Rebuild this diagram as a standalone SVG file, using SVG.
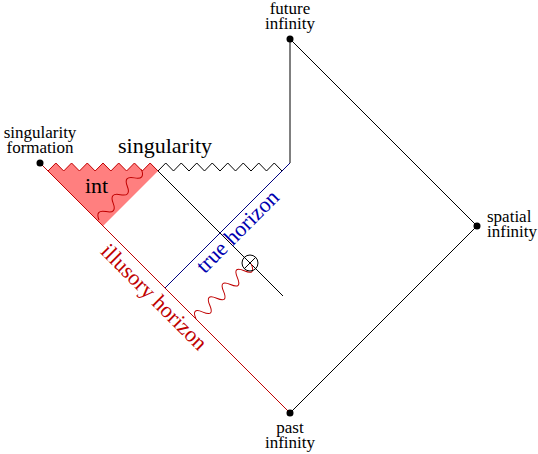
<svg xmlns="http://www.w3.org/2000/svg" width="538" height="454" viewBox="0 0 538 454">
<style>
text{font-family:"Liberation Serif","Times New Roman",serif;fill:#000}
.sm{font-size:17px}
.lg{font-size:22px}
.ln{fill:none;stroke:#000;stroke-width:1}
.red{fill:none;stroke:#c00000;stroke-width:1}
.blue{fill:none;stroke:#000080;stroke-width:1}
.dot{fill:#000}
</style>
<rect width="538" height="454" fill="#fff"/>
<g id="interior">
<polygon points="48,171 55.86,163 63.71,171 71.57,163 79.43,171 87.29,163 95.14,171 103,163 110.86,171 118.71,163 126.57,171 134.43,163 142.29,171 150.14,163 158,171 103,226" fill="#ff7f7f" stroke="none"/>
<polyline class="red" points="48,171 55.86,163 63.71,171 71.57,163 79.43,171 87.29,163 95.14,171 103,163 110.86,171 118.71,163 126.57,171 134.43,163 142.29,171 150.14,163 158,171"/>
<path class="red" d="M0,0 q5.5,-10 11,0 t11,0 t11,0 t11,0 t11,0 t11,0" transform="translate(99,220) rotate(-50)"/>
<text class="lg" x="85" y="193">int</text>
</g>
<g id="connectors">
<line class="ln" x1="290" y1="39" x2="290" y2="163"/>
<line class="ln" x1="290" y1="39" x2="477" y2="226"/>
<line class="ln" x1="477" y1="226" x2="290" y2="413"/>
<line class="red" x1="40" y1="163" x2="290" y2="413"/>
<line class="blue" x1="290" y1="163" x2="165" y2="288"/>
<line class="ln" x1="158" y1="171" x2="283" y2="296"/>
<path class="red" d="M0,0 q4.875,-12 9.75,0 t9.75,0 t9.75,0 t9.75,0 t9.75,0 t9.75,0 t9.75,0 t9.75,0" transform="translate(196,319) rotate(-45)"/>
</g>
<g id="singularity">
<polyline class="ln" points="158,171 165.75,163 173.5,171 181.25,163 189,171 196.75,163 204.5,171 212.25,163 220,171 227.75,163 235.5,171 243.25,163 251,171 258.75,163 266.5,171 274.25,163 282,171"/>
<text class="lg" x="118" y="153">singularity</text>
</g>
<g id="observer">
<circle cx="250" cy="263" r="8" fill="none" stroke="#000" stroke-width="1"/>
<line class="ln" x1="244.3" y1="268.7" x2="255.7" y2="257.3"/>
</g>
<g id="future-infinity">
<circle class="dot" cx="290" cy="39" r="3.5"/>
<text class="sm" x="290" y="14" text-anchor="middle">future</text>
<text class="sm" x="290" y="29" text-anchor="middle">infinity</text>
</g>
<g id="spatial-infinity">
<circle class="dot" cx="477" cy="226" r="3.5"/>
<text class="sm" x="487" y="222">spatial</text>
<text class="sm" x="487" y="237">infinity</text>
</g>
<g id="past-infinity">
<circle class="dot" cx="290" cy="413" r="3.5"/>
<text class="sm" x="290" y="433" text-anchor="middle">past</text>
<text class="sm" x="290" y="448" text-anchor="middle">infinity</text>
</g>
<g id="singularity-formation">
<circle class="dot" cx="40" cy="163" r="3.5"/>
<text class="sm" x="40" y="138" text-anchor="middle">singularity</text>
<text class="sm" x="40" y="153" text-anchor="middle">formation</text>
</g>
<g id="true-horizon">
<text class="lg" x="242.5" y="236.5" text-anchor="middle" transform="rotate(-45 242.5 236.5)" style="fill:#0000b0">true horizon</text>
</g>
<g id="illusory-horizon">
<text class="lg" x="149" y="302" text-anchor="middle" transform="rotate(45 149 302)" style="fill:#c00000">illusory horizon</text>
</g>
</svg>
